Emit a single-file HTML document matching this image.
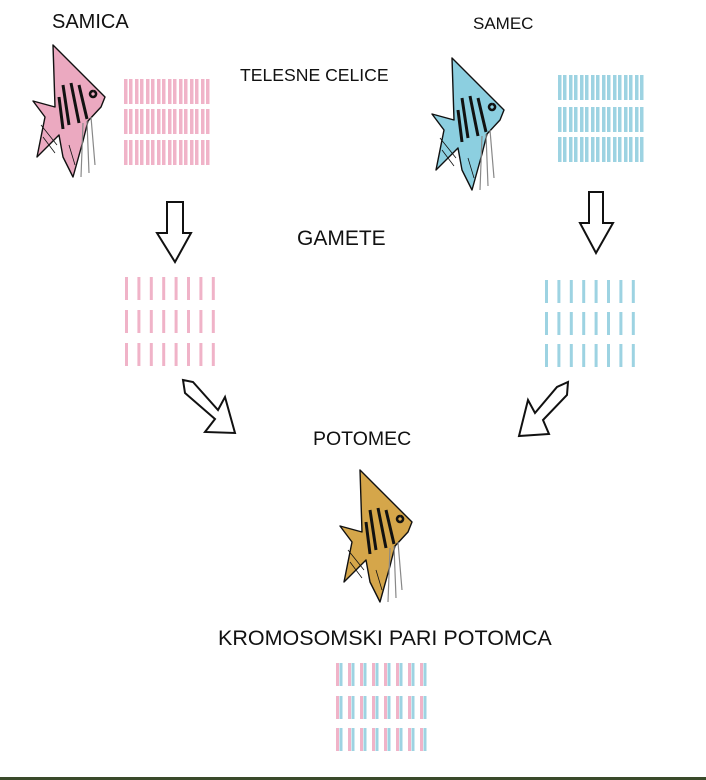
<!DOCTYPE html>
<html><head><meta charset="utf-8"><style>
html,body{margin:0;padding:0;background:#fff;}
svg{display:block}
text{font-family:"Liberation Sans",sans-serif;fill:#111}
</style></head><body>
<svg id="s" width="706" height="780" viewBox="0 0 706 780" xmlns="http://www.w3.org/2000/svg">
<defs>
<g id="fishlines" fill="none" stroke="#111" stroke-width="1.4" stroke-linejoin="round">
  <path d="M20,0 L72,52 L68,62 L55,76 L50,96 L40,132 L30,112 L26,90 L4,112 L12,72 L0,56 L22,62 Z"/>
  <path d="M30,40 L36,80 M38,38 L46,78 M46,40 L54,74 M26,52 L30,84" stroke-width="3"/>
  <path d="M60,46 a3,3 0 1,0 0.1,0" stroke-width="2.5"/>
  <path d="M50,78 L48,132 M54,76 L56,128 M58,72 L62,120" stroke="#888" stroke-width="1.2"/>
  <path d="M8,80 L24,100 M10,92 L22,108 M36,100 L42,120" stroke-width="0.8"/>
</g>
</defs>
<text x="52" y="28" font-size="20">SAMICA</text>
<text x="473" y="29" font-size="17">SAMEC</text>
<text x="240" y="81" font-size="17.6">TELESNE CELICE</text>
<text x="297" y="245" font-size="21">GAMETE</text>
<text x="313" y="445" font-size="19.5">POTOMEC</text>
<text x="218" y="645" font-size="21.5">KROMOSOMSKI PARI POTOMCA</text>

<g transform="translate(33,45)"><path d="M20,0 L72,52 L68,62 L55,76 L50,96 L40,132 L30,112 L26,90 L4,112 L12,72 L0,56 L22,62 Z" fill="#eba9c0"/><use href="#fishlines"/></g>
<g transform="translate(432,58)"><path d="M20,0 L72,52 L68,62 L55,76 L50,96 L40,132 L30,112 L26,90 L4,112 L12,72 L0,56 L22,62 Z" fill="#8ccfe0"/><use href="#fishlines"/></g>
<g transform="translate(340,470)"><path d="M20,0 L72,52 L68,62 L55,76 L50,96 L40,132 L30,112 L26,90 L4,112 L12,72 L0,56 L22,62 Z" fill="#d5a64a"/><use href="#fishlines"/></g>

<g fill="#fff" stroke="#111" stroke-width="2" stroke-linejoin="miter">
  <polygon points="167,202 183,202 183,233 191,233 175,262 157,233 167,233"/>
  <polygon points="589,192 603,192 603,223 613,223 596,253 580,223 589,223"/>
  <polygon points="183,380 193,382 218,410 225,397 235,433 205,432 215,419 185,393"/>
  <polygon points="568,382 567,395 543,420 549,434 519,436 528,400 535,413 557,387"/>
</g>
<g id="bars"></g>
<rect x="0" y="777" width="706" height="3" fill="#3a4a2a"/>
</svg>
<script>
var g=document.getElementById('bars'),ns='http://www.w3.org/2000/svg';
function r(x,y,w,h,c){var e=document.createElementNS(ns,'rect');e.setAttribute('x',x);e.setAttribute('y',y);e.setAttribute('width',w);e.setAttribute('height',h);e.setAttribute('fill',c);g.appendChild(e);}
var P='#f0b3c8',B='#9dd3e2';
function pairs(x0,rows,c){rows.forEach(function(y){for(var i=0;i<8;i++){var x=x0+i*11;r(x,y,3.5,25,c);r(x+5,y,3.5,25,c);}});}
pairs(124,[79,109,140],P);
pairs(558,[75,107,137],B);
function singles(x0,rows,c){rows.forEach(function(y){for(var i=0;i<8;i++){r(x0+i*12.4,y,3,23,c);}});}
singles(125,[277,310,343],P);
singles(545,[280,312,344],B);
[663,696,728].forEach(function(y){for(var i=0;i<8;i++){var x=336+i*12;r(x,y,3,23,P);r(x+3.5,y,3,23,B);}});
</script>
</body></html>
